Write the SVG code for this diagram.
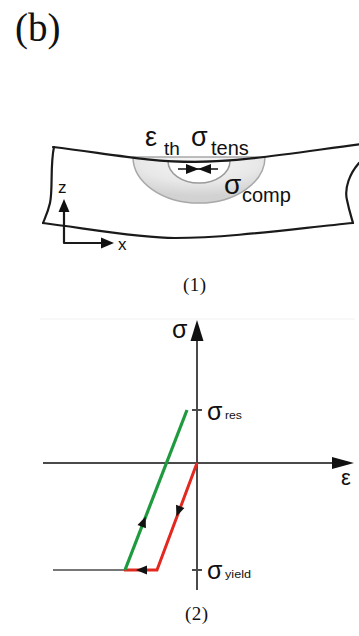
<svg xmlns="http://www.w3.org/2000/svg" width="359" height="636" viewBox="0 0 359 636">
  <style>
    .serif { font-family: "Liberation Serif", "Times New Roman", serif; fill: #111; }
    .sans { font-family: "Liberation Sans", Arial, sans-serif; fill: #111; }
    .edge { fill: none; stroke: #1a1a1a; stroke-width: 2.2; stroke-linecap: round; stroke-linejoin: round; }
    .axis { fill: none; stroke: #4a4a4a; stroke-width: 2; }
    .green { fill: none; stroke: #1f9a3e; stroke-width: 3.2; stroke-linecap: butt; }
    .red { fill: none; stroke: #e3281f; stroke-width: 3; stroke-linejoin: miter; }
    .head { fill: #111; }
  </style>
  <defs>
    <radialGradient id="weldFill" cx="0.5" cy="0.1" r="0.75">
      <stop offset="0" stop-color="#f6f6f6"/>
      <stop offset="0.6" stop-color="#e8e8e8"/>
      <stop offset="1" stop-color="#d2d2d2"/>
    </radialGradient>
  </defs>

  <rect width="359" height="636" fill="#fff"/>

  <!-- panel label -->
  <text class="serif" x="15" y="41" font-size="39">(b)</text>

  <!-- (1) welded plate cross-section -->
  <g id="plate">
    <!-- weld zones -->
    <path d="M133,157 A66,46 0 0 0 265,157 Z" fill="url(#weldFill)" stroke="#a8a8a8" stroke-width="1.5"/>
    <path d="M168,161 A31,22 0 0 0 230,161 Z" fill="#fff" stroke="#9a9a9a" stroke-width="1.5"/>
    <!-- plate outline -->
    <path class="edge" d="M53,147 C110,154 150,162 195,162 C240,162 300,152 362,144"/>
    <path class="edge" d="M54,147 C50,165 53,190 50,203 C48,212 45,218 43,223"/>
    <path class="edge" d="M43,223 C90,229 140,238 175,238 C230,238 300,228 353,223"/>
    <path class="edge" d="M359,163 C350,173 344,188 347,200 C349,210 351,216 353,223"/>
  </g>

  <g id="thermal-strain">
    <line x1="178" y1="169" x2="218" y2="169" stroke="#111" stroke-width="1.6"/>
    <path class="head" d="M186,164 L199,169 L186,174 Z"/>
    <path class="head" d="M211,164 L198,169 L211,174 Z"/>
  </g>

  <g id="plate-labels">
    <text class="sans" x="145" y="146" font-size="27">ε</text>
    <text class="sans" x="164" y="155" font-size="19">th</text>
    <text class="sans" x="191" y="146" font-size="27">σ</text>
    <text class="sans" x="211" y="155" font-size="20">tens</text>
    <text class="sans" x="224" y="194" font-size="28">σ</text>
    <text class="sans" x="242" y="202" font-size="20">comp</text>
  </g>

  <g id="xz-axes">
    <polyline class="edge" points="64,210 64,243 104,243" stroke-width="2.5" stroke-linejoin="miter" stroke-linecap="butt"/>
    <path class="head" d="M64,199 L69.5,212 L58.5,212 Z"/>
    <path class="head" d="M114,243 L101,248.5 L101,237.5 Z"/>
    <text class="sans" x="58" y="193" font-size="17">z</text>
    <text class="sans" x="118" y="250" font-size="17">x</text>
  </g>

  <text class="serif" x="183" y="291" font-size="19" letter-spacing="0.5">(1)</text>

  <line x1="40" y1="319" x2="355" y2="319" stroke="#f1f1f1" stroke-width="1"/>

  <!-- (2) stress-strain cycle -->
  <g id="sigma-axis">
    <line class="axis" x1="197" y1="590" x2="197" y2="336"/>
    <path class="head" d="M197,320 L203.5,341 L190.5,341 Z"/>
    <text class="sans" x="172" y="338" font-size="25">σ</text>
  </g>

  <g id="eps-axis">
    <line class="axis" x1="43" y1="463" x2="338" y2="463"/>
    <path class="head" d="M354,463 L332,469 L332,457 Z"/>
    <text class="sans" x="341" y="485" font-size="22">ε</text>
  </g>

  <g id="sigma-res">
    <line x1="192" y1="410" x2="202" y2="410" stroke="#4a4a4a" stroke-width="2"/>
    <text class="sans" x="207" y="420" font-size="25">σ</text>
    <text class="sans" x="225" y="419" font-size="10" textLength="17" lengthAdjust="spacingAndGlyphs">res</text>
  </g>

  <g id="sigma-yield">
    <line x1="192" y1="570" x2="202" y2="570" stroke="#4a4a4a" stroke-width="2"/>
    <text class="sans" x="207" y="579" font-size="25">σ</text>
    <text class="sans" x="225" y="578" font-size="11" textLength="26" lengthAdjust="spacingAndGlyphs">yield</text>
  </g>

  <g id="connectors">
    <line x1="53" y1="570" x2="125" y2="570" stroke="#777" stroke-width="2"/>
    <polyline class="red" points="197,463 157,570 124,570"/>
    <line class="green" x1="187" y1="410" x2="125" y2="570"/>
    <!-- direction arrowheads -->
    <path class="head" d="M6,0 L-5,-4.5 L-5,4.5 Z" transform="translate(143.5,522) rotate(-68.8)"/>
    <path class="head" d="M6,0 L-5,-4.5 L-5,4.5 Z" transform="translate(178.5,511) rotate(110.5)"/>
    <path class="head" d="M6,0 L-5,-4.5 L-5,4.5 Z" transform="translate(142,570) rotate(180)"/>
  </g>

  <text class="serif" x="185" y="620" font-size="19" letter-spacing="0.5">(2)</text>
</svg>
